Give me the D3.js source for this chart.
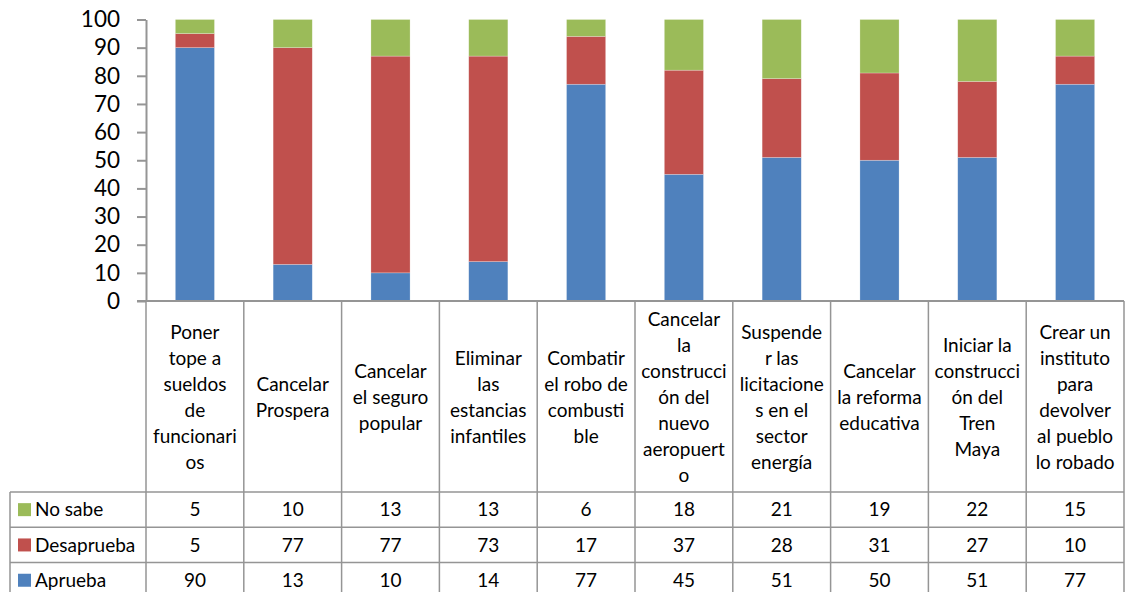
<!DOCTYPE html>
<html>
<head>
<meta charset="utf-8">
<script src="https://cdn.jsdelivr.net/npm/d3@7"></script>
<style>
    body { margin: 0; background: #fff; }
    text { font-family: Lato, "Open Sans", sans-serif; fill: #000; }
</style>
</head>
<body>
<div id="chart"></div>
<script>
// categories, with the line breaks used in the table header
var categories = [
    "Poner\ntope a\nsueldos\nde\nfuncionari\nos",
    "Cancelar\nProspera",
    "Cancelar\nel seguro\npopular",
    "Eliminar\nlas\nestancias\ninfantiles",
    "Combatir\nel robo de\ncombusti\nble",
    "Cancelar\nla\nconstrucci\nón del\nnuevo\naeropuert\no",
    "Suspende\nr las\nlicitacione\ns en el\nsector\nenergía",
    "Cancelar\nla reforma\neducativa",
    "Iniciar la\nconstrucci\nón del\nTren\nMaya",
    "Crear un\ninstituto\npara\ndevolver\nal pueblo\nlo robado"
];
var seriesNames = ["Aprueba", "Desaprueba", "No sabe"];
var aprueba = [90, 13, 10, 14, 77, 45, 51, 50, 51, 77];
var desaprueba = [5, 77, 77, 73, 17, 37, 28, 31, 27, 10];
var noSabe = [5, 10, 13, 13, 6, 18, 21, 19, 22, 15];
var seriesColors = ["#4F81BD", "#C0504D", "#9BBB59"];
var yTicks = [0, 10, 20, 30, 40, 50, 60, 70, 80, 90, 100];

var width = 1126, height = 592;
var gridColor = "#959595";

var rows = categories.map(function (c, i) {
    return {"Aprueba": aprueba[i], "Desaprueba": desaprueba[i], "No sabe": noSabe[i]};
});
var stacked = d3.stack().keys(seriesNames)(rows);

var svg = d3.select("#chart")
    .append("svg")
    .attr("width", width)
    .attr("height", height);

var colScale = d3.scaleBand()
    .domain(d3.range(categories.length))
    .range([146, 1124])
    .padding(0);

var yScale = d3.scaleLinear()
    .domain([0, 100])
    .range([301, 19.5]);

// bars
svg.append("g")
    .selectAll("g")
    .data(stacked)
    .join("g")
    .attr("fill", function (d, i) { return seriesColors[i]; })
    .selectAll("rect")
    .data(function (d) { return d; })
    .join("rect")
    .attr("x", function (d, i) { return colScale(i) + colScale.bandwidth() * 0.3; })
    .attr("width", colScale.bandwidth() * 0.4)
    .attr("y", function (d) { return yScale(Math.min(100, d[1])); })
    .attr("height", function (d) { return yScale(d[0]) - yScale(Math.min(100, d[1])); })
    .attr("stroke", "#fff")
    .attr("stroke-opacity", 0.4)
    .attr("stroke-width", 0.6);

// y axis
var yAxis = svg.append("g")
    .attr("transform", "translate(146,0)")
    .call(d3.axisLeft(yScale).tickValues(yTicks).tickSize(9).tickSizeOuter(0).tickPadding(17));
yAxis.select(".domain").attr("stroke", gridColor).attr("stroke-width", 2);
yAxis.selectAll(".tick line").attr("stroke", gridColor).attr("stroke-width", 2);
yAxis.selectAll(".tick text")
    .style("font-family", "Lato, sans-serif")
    .style("font-size", "22.5px")
    .attr("fill", "#000");

// data table
var table = svg.append("g");
var headTop = 301, headBottom = 492, rowH = 35.3;
var tableBottom = headBottom + rowH * 3;
var tableLeft = 10, tableRight = colScale.range()[1];
var fs = "19px";

// horizontal lines
table.append("line")
    .attr("x1", 137).attr("x2", tableRight)
    .attr("y1", headTop).attr("y2", headTop)
    .attr("stroke", gridColor).attr("stroke-width", 2);
d3.range(4).forEach(function (r) {
    var y = headBottom + r * rowH;
    table.append("line")
        .attr("x1", tableLeft).attr("x2", tableRight)
        .attr("y1", y).attr("y2", y)
        .attr("stroke", gridColor).attr("stroke-width", 1.5);
});

// vertical lines
d3.range(categories.length + 1).forEach(function (i) {
    var x = i < categories.length ? colScale(i) : tableRight;
    table.append("line")
        .attr("x1", x).attr("x2", x)
        .attr("y1", headTop).attr("y2", tableBottom)
        .attr("stroke", gridColor).attr("stroke-width", 1.5);
});
table.append("line")
    .attr("x1", tableLeft).attr("x2", tableLeft)
    .attr("y1", headBottom).attr("y2", tableBottom)
    .attr("stroke", gridColor).attr("stroke-width", 1.5);

// header labels
var lineH = 26;
var headMid = (headTop + headBottom) / 2 + 1;
categories.forEach(function (c, i) {
    var lines = c.split("\n");
    var t = table.append("text")
        .attr("text-anchor", "middle")
        .style("font-size", fs);
    lines.forEach(function (ln, k) {
        t.append("tspan")
            .attr("x", colScale(i) + colScale.bandwidth() / 2)
            .attr("y", headMid + (k - (lines.length - 1) / 2) * lineH)
            .attr("dy", "0.35em")
            .text(ln);
    });
});

// value rows: No sabe, Desaprueba, Aprueba
var tableRows = [
    {name: "No sabe", values: noSabe, color: seriesColors[2]},
    {name: "Desaprueba", values: desaprueba, color: seriesColors[1]},
    {name: "Aprueba", values: aprueba, color: seriesColors[0]}
];
tableRows.forEach(function (row, r) {
    var yMid = headBottom + r * rowH + rowH / 2;
    table.append("rect")
        .attr("x", 18).attr("y", yMid - 6.5)
        .attr("width", 13).attr("height", 13)
        .attr("fill", row.color);
    table.append("text")
        .attr("x", 35).attr("y", yMid)
        .attr("dy", "0.35em")
        .style("font-size", fs)
        .text(row.name);
    row.values.forEach(function (v, i) {
        table.append("text")
            .attr("x", colScale(i) + colScale.bandwidth() / 2)
            .attr("y", yMid)
            .attr("dy", "0.35em")
            .attr("text-anchor", "middle")
            .style("font-size", fs)
            .text(v);
    });
});
</script>
</body>
</html>
